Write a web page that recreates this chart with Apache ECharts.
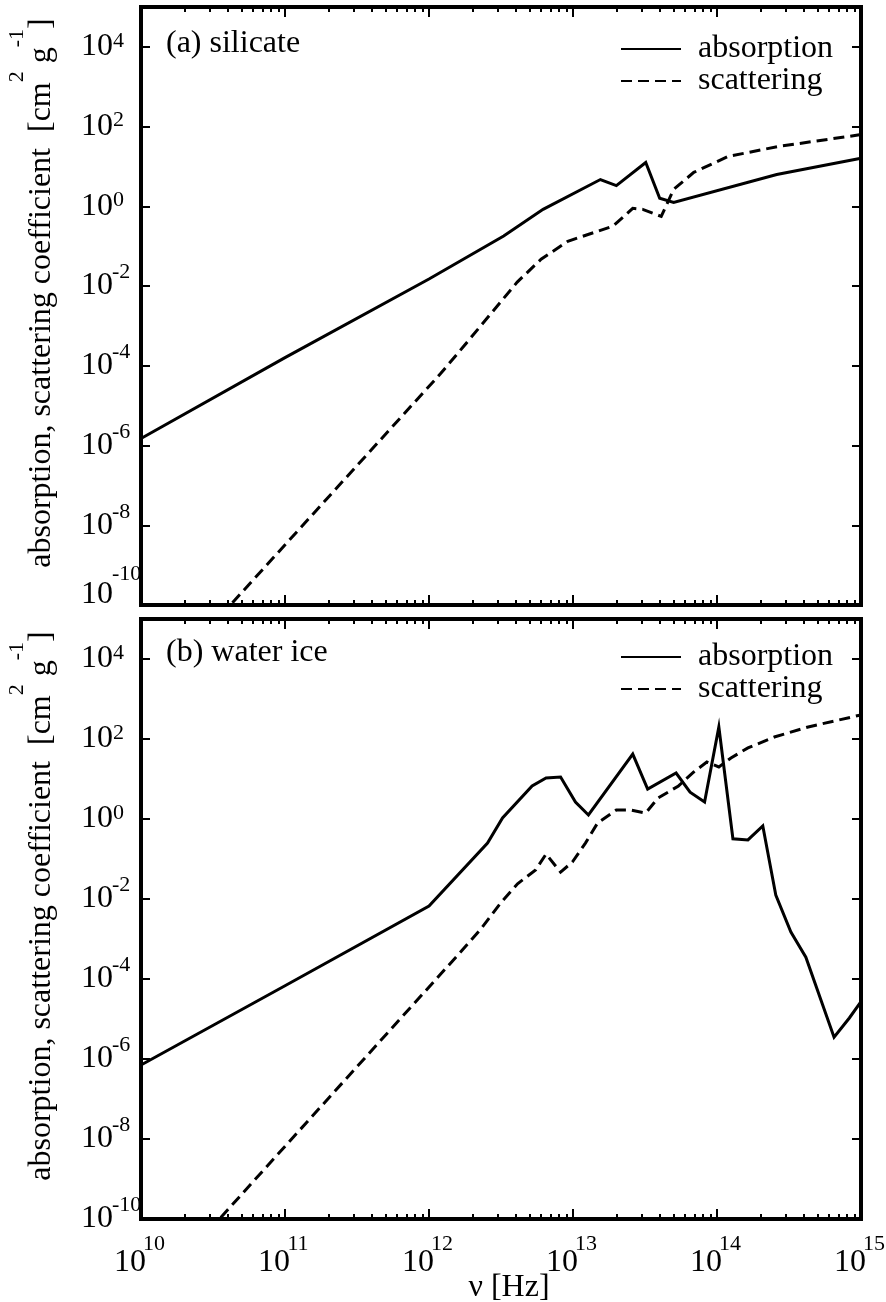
<!DOCTYPE html>
<html><head><meta charset="utf-8">
<script src="https://cdn.jsdelivr.net/npm/echarts@6/dist/echarts.min.js"></script>
<style>html,body{margin:0;padding:0;background:#fff}#c{width:886px;height:1302px}</style>
</head><body><div id="c"></div><script>
// ---- data ----
const nuSilAbs = [1e10, 1e11, 1e12, 3.3e12, 6.2e12, 1.55e13, 2.0e13, 3.2e13, 4.0e13, 5.0e13, 2.6e14, 1e15];
const kSilAbs  = [1.5e-6, 1.6e-4, 1.5e-2, 0.18, 0.84, 4.7, 3.3, 12.6, 1.6, 1.26, 6.3, 16];
const nuSilSca = [1e10, 1.2e12, 1.73e12, 4.1e12, 6.0e12, 9.2e12, 1.9e13, 2.6e13, 3.05e13, 4.1e13, 5.0e13, 6.9e13, 1.19e14, 2.65e14, 1e15];
const kSilSca  = [3.4e-13, 6.3e-5, 3.0e-4, 1.26e-2, 4.7e-2, 0.133, 0.32, 0.89, 0.84, 0.56, 2.66, 7.1, 17.8, 31.6, 63];
const nuIceAbs = [1e10, 1e11, 1e12, 2.55e12, 3.24e12, 5.2e12, 6.5e12, 8.2e12, 1.04e13, 1.28e13, 2.6e13, 3.3e13, 5.2e13, 6.5e13, 8.2e13, 1.03e14, 1.29e14, 1.64e14, 2.08e14, 2.56e14, 3.26e14, 4.14e14, 6.5e14, 8.3e14, 1e15];
const kIceAbs  = [7.1e-7, 6.8e-5, 6.7e-3, 0.25, 1.06, 6.7, 10.6, 11.2, 2.66, 1.26, 42, 5.6, 14.1, 4.7, 2.66, 200, 0.32, 0.30, 0.67, 1.26e-2, 1.5e-3, 3.5e-4, 3.5e-6, 1.06e-5, 2.7e-5];
const nuIceSca = [1e10, 1.57e12, 2.27e12, 3.14e12, 4.12e12, 5.5e12, 6.5e12, 8.2e12, 9.9e12, 1.22e13, 1.48e13, 2.0e13, 2.5e13, 3.2e13, 3.9e13, 5.4e13, 6.9e13, 8.5e13, 1.03e14, 1.25e14, 1.64e14, 2.5e14, 4.3e14, 1e15];
const kIceSca  = [6.8e-13, 3.8e-4, 1.7e-3, 7.9e-3, 2.4e-2, 5.3e-2, 0.133, 4.7e-2, 8.4e-2, 0.25, 0.79, 1.68, 1.68, 1.41, 3.35, 6.7, 15, 26.6, 20, 33.5, 60, 112, 200, 400];

const seriesNames = ['absorption', 'scattering'];
const panelTitles = ['(a) silicate', '(b) water ice'];
const xAxisName = 'ν [Hz]';
const yAxisNameParts = ['absorption, scattering coefficient  [cm', '2', ' g', '-1', ']'];
const xRange = [1e10, 1e15];
const yRange = [1e-10, 1e5];
const xMinorTicks = [];
for (let d = 10; d < 15; d++) for (let m = 2; m <= 9; m++) xMinorTicks.push(m * Math.pow(10, d));

const FONT = 'Liberation Serif';
const pairs = (xs, ys) => xs.map((x, i) => [x, ys[i]]);

const grids = [
  {left: 141, top: 7, width: 720, height: 598},
  {left: 141, top: 619, width: 720, height: 600}
];

function exp10(v) { return Math.round(Math.log(v) / Math.LN10); }

const T = (size, lh, pad) => ({fontFamily: FONT, fontSize: size, lineHeight: lh, padding: pad, color: '#000'});
const yRich = {
  sp: T(22, 20, [0, 0, 0, 32]), bp: T(32, 12, [0, 0, 20, 0]),
  sn: T(22, 20, [0, 0, 0, 31]), bn: T(32, 27, [0, 0, 20, 0]),
  sl: T(22, 20, [0, 0, 0, 31]), bl: T(32, 61, [0, 0, 40, 0])
};
const xRich = {
  sx: T(22, 18, [0, 0, 0, 26]), bx: T(32, 20, [0, 22, 0, 0])
};

function yFmt(panel) {
  return function (v) {
    const e = exp10(v);
    if (e > 4) return '';
    let k = e < 0 ? 'n' : 'p';
    if (panel === 0 && e === -10) k = 'l';
    return '{s' + k + '|' + e + '}\n{b' + k + '|10}';
  };
}

const tickStyle = {lineStyle: {color: '#000', width: 2}};

function xAxisMajor(gi, pos, labels) {
  const ax = {
    type: 'log', logBase: 10, gridIndex: gi, position: pos,
    min: xRange[0], max: xRange[1], interval: 1,
    axisLine: {show: false}, splitLine: {show: false},
    axisTick: Object.assign({inside: true, length: 10}, tickStyle),
    axisLabel: {show: false}
  };
  if (labels) {
    ax.axisLabel = {show: true, margin: 16, formatter: v => '{sx|' + exp10(v) + '}\n{bx|10}', rich: xRich};
    ax.name = xAxisName;
    ax.nameLocation = 'middle';
    ax.nameGap = 53;
    ax.nameMoveOverlap = false;
    ax.nameTextStyle = {fontFamily: FONT, fontSize: 32, lineHeight: 32, color: '#000', padding: [0, 0, 0, 16]};
  }
  return ax;
}
function xAxisMinor(gi, pos) {
  return {
    type: 'log', logBase: 10, gridIndex: gi, position: pos,
    min: xRange[0], max: xRange[1],
    axisLine: {show: false}, splitLine: {show: false},
    axisTick: Object.assign({inside: true, length: 5, customValues: xMinorTicks}, tickStyle),
    axisLabel: {show: false}
  };
}
function yAxisMain(gi, pos, panel) {
  const ax = {
    type: 'log', logBase: 10, gridIndex: gi, position: pos,
    min: yRange[0], max: yRange[1], interval: 2,
    axisLine: {show: false}, splitLine: {show: false},
    axisTick: Object.assign({inside: true, length: 9}, tickStyle),
    axisLabel: {show: false}
  };
  if (pos === 'left') {
    ax.axisLabel = {show: true, align: 'left', margin: 60, formatter: yFmt(panel), rich: yRich};
    ax.name = '{n|' + yAxisNameParts[0] + '}{s|' + yAxisNameParts[1] + '}{n|' + yAxisNameParts[2] + '}{s|' + yAxisNameParts[3] + '}{n|' + yAxisNameParts[4] + '}';
    ax.nameLocation = 'middle';
    ax.nameGap = 83;
    ax.nameMoveOverlap = false;
    ax.nameTextStyle = {
      padding: [0, 0, 0, 26],
      rich: {
        n: {fontFamily: FONT, fontSize: 32, lineHeight: 52, verticalAlign: 'bottom', color: '#000'},
        s: {fontFamily: FONT, fontSize: 22, lineHeight: 22, verticalAlign: 'top', color: '#000'}
      }
    };
  }
  return ax;
}

const lineSeries = (name, data, xi, yi, dashed) => ({
  type: 'line', name: name, data: data, xAxisIndex: xi, yAxisIndex: yi,
  symbol: 'none', showSymbol: false, clip: true, z: 3,
  lineStyle: {color: '#000', width: 3, type: dashed ? [11, 6] : 'solid', join: 'miter'},
  itemStyle: {color: '#000'}
});

const legendBase = (top) => ({
  data: seriesNames, orient: 'vertical', left: 620, top: top,
  itemWidth: 60, itemHeight: 14, itemGap: 0, padding: 0, selectedMode: false,
  itemStyle: {opacity: 0},
  textStyle: {fontFamily: FONT, fontSize: 32, lineHeight: 32, color: '#000', padding: [0, 0, 0, 12]}
});

const gridBase = {show: true, borderColor: '#000', borderWidth: 4, backgroundColor: 'transparent', containLabel: false, outerBoundsMode: 'none'};

const option = {
  animation: false,
  backgroundColor: '#fff',
  title: panelTitles.map((t, i) => ({
    text: t, left: 166, top: i === 0 ? 28 : 637, padding: 0,
    textStyle: {fontFamily: FONT, fontSize: 32, lineHeight: 32, fontWeight: 'normal', color: '#000'}
  })),
  legend: [legendBase(33), legendBase(641)],
  grid: [
    Object.assign({}, gridBase, grids[0]),
    Object.assign({}, gridBase, grids[1]),
    Object.assign({show: false, containLabel: false, outerBoundsMode: 'none'}, grids[0]),
    Object.assign({show: false, containLabel: false, outerBoundsMode: 'none'}, grids[1])
  ],
  xAxis: [
    xAxisMajor(0, 'bottom', false),
    xAxisMajor(0, 'top', false),
    xAxisMajor(1, 'bottom', true),
    xAxisMajor(1, 'top', false),
    xAxisMinor(2, 'bottom'),
    xAxisMinor(2, 'top'),
    xAxisMinor(3, 'bottom'),
    xAxisMinor(3, 'top')
  ],
  yAxis: [
    yAxisMain(0, 'left', 0),
    yAxisMain(0, 'right', 0),
    yAxisMain(1, 'left', 1),
    yAxisMain(1, 'right', 1),
    {type: 'value', gridIndex: 2, show: false},
    {type: 'value', gridIndex: 3, show: false}
  ],
  series: [
    lineSeries(seriesNames[0], pairs(nuSilAbs, kSilAbs), 0, 0, false),
    lineSeries(seriesNames[1], pairs(nuSilSca, kSilSca), 0, 0, true),
    lineSeries(seriesNames[0], pairs(nuIceAbs, kIceAbs), 2, 2, false),
    lineSeries(seriesNames[1], pairs(nuIceSca, kIceSca), 2, 2, true)
  ]
};
const chart = echarts.init(document.getElementById('c'), null, {renderer: 'canvas'});
chart.setOption(option);
</script></body></html>
